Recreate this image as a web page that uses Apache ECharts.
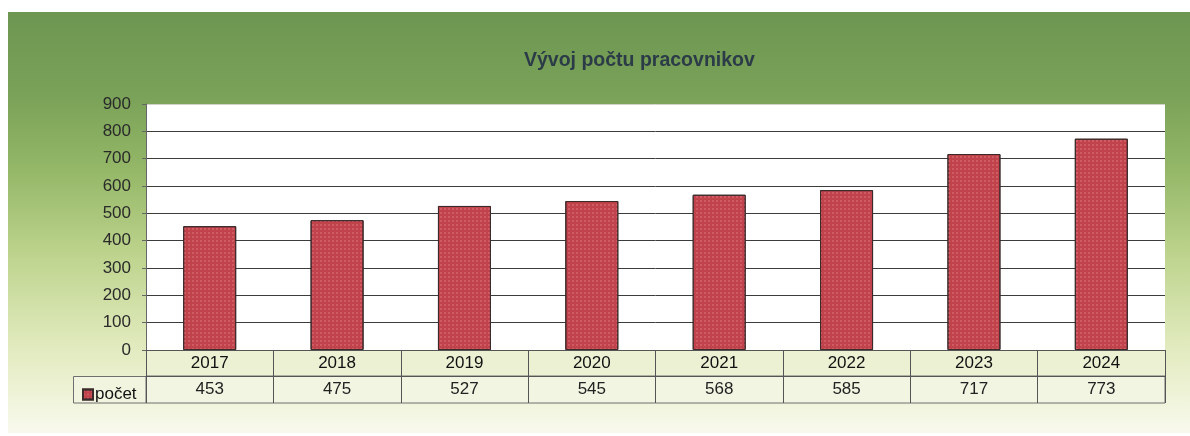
<!DOCTYPE html>
<html>
<head>
<meta charset="utf-8">
<script src="https://cdn.jsdelivr.net/npm/echarts@6/dist/echarts.min.js"></script>
<style>
  html, body { margin: 0; padding: 0; background: #fff; }
  #chart { width: 1190px; height: 436px; }
</style>
</head>
<body>
<div id="chart"></div>
<script>
// udaje z grafu
var roky = ['2017', '2018', '2019', '2020', '2021', '2022', '2023', '2024']
var pocet = [453, 475, 527, 545, 568, 585, 717, 773]
var yTicks = [0, 100, 200, 300, 400, 500, 600, 700, 800, 900]

var chart = echarts.init(document.getElementById('chart'))
var font = 'Liberation Sans, Arial, sans-serif'

// posledna mriezka (900) je len svetla hrana
var gridColors = yTicks.map(function (v, i) { return i === yTicks.length - 1 ? '#cfd3c8' : '#3c3c3c' })

var option = {
  animation: false,
  textStyle: { fontFamily: font },
  title: {
    text: 'Vývoj počtu pracovnikov',
    left: 524,
    top: 51,
    padding: 0,
    textStyle: { fontSize: 19.5, fontWeight: 'bold', color: '#2b3b47', fontFamily: font }
  },
  legend: {
    left: 77,
    top: 381,
    itemWidth: 10,
    itemHeight: 10,
    itemGap: 4,
    icon: 'rect',
    textStyle: { fontSize: 17, color: '#111', padding: [0, 0, 0, -3] },
    data: ['počet']
  },
  graphic: [
    { // pozadie panelu
      type: 'rect', z: -10, silent: true,
      shape: { x: 8, y: 12, width: 1182, height: 421 },
      style: {
        fill: new echarts.graphic.LinearGradient(0, 0, 0, 1, [
          { offset: 0, color: '#6d9652' },
          { offset: 0.2, color: '#7aa258' },
          { offset: 0.38, color: '#95b868' },
          { offset: 0.58, color: '#bed48e' },
          { offset: 0.78, color: '#dfe9bb' },
          { offset: 0.92, color: '#f0f4da' },
          { offset: 1, color: '#f8f9ee' }
        ])
      }
    },
    { // riadok rokov
      type: 'rect', z: -5, silent: true,
      shape: { x: 146, y: 350, width: 1019, height: 26 },
      style: { fill: '#edf1d4' }
    },
    { // riadok hodnot
      type: 'rect', z: -5, silent: true,
      shape: { x: 146, y: 376, width: 1019, height: 27 },
      style: { fill: '#f3f5e3', stroke: '#6f6f6f', lineWidth: 1 }
    },
    { // bunka legendy
      type: 'rect', z: -5, silent: true,
      shape: { x: 73.5, y: 376.5, width: 72.5, height: 26.5 },
      style: { fill: '#f1f4df', stroke: '#6f6f6f', lineWidth: 1 }
    }
  ],
  grid: {
    left: 146,
    right: 25,
    top: 104,
    bottom: 86,
    show: true,
    backgroundColor: '#ffffff',
    borderWidth: 0
  },
  xAxis: [
    {
      type: 'category',
      data: roky,
      position: 'bottom',
      axisLine: { show: true, lineStyle: { color: '#555', width: 1 } },
      axisTick: { show: true, length: 26, interval: 0, lineStyle: { color: '#555' } },
      axisLabel: { fontSize: 17, color: '#111', margin: 5, interval: 0 }
    },
    {
      type: 'category',
      data: pocet.map(String),
      position: 'bottom',
      offset: 26,
      axisLine: { show: true, lineStyle: { color: '#555', width: 1 } },
      axisTick: { show: true, length: 27, interval: 0, lineStyle: { color: '#555' } },
      axisLabel: { fontSize: 17, color: '#222', margin: 5, interval: 0 }
    }
  ],
  yAxis: {
    type: 'value',
    min: 0,
    max: 900,
    interval: 100,
    axisLine: { show: true, lineStyle: { color: '#666' } },
    axisTick: { show: true, length: 4, lineStyle: { color: '#666' } },
    axisLabel: { fontSize: 17, color: '#2a2a2a', margin: 15 },
    splitLine: { show: true, lineStyle: { color: gridColors, width: 1 } }
  },
  series: [
    {
      name: 'počet',
      type: 'bar',
      data: pocet,
      barWidth: 53,
      itemStyle: {
        color: '#c0424b',
        borderColor: '#3a2a2a',
        borderWidth: 1,
        decal: {
          symbol: 'rect',
          symbolSize: 1,
          color: 'rgba(235,140,150,0.35)',
          dashArrayX: [2, 2],
          dashArrayY: [2, 2],
          rotation: 0
        }
      }
    }
  ]
}

chart.setOption(option)
</script>
</body>
</html>
